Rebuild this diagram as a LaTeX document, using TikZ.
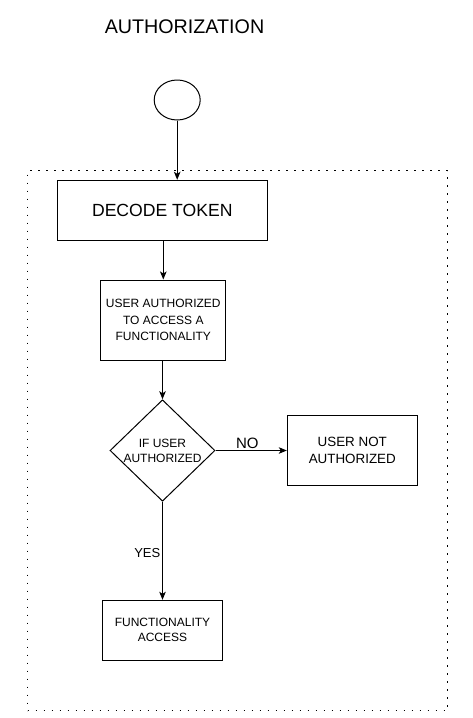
\documentclass[tikz,border=0pt]{standalone}
\usepackage{fontspec}
\setmainfont{Liberation Sans}
\usetikzlibrary{shapes.geometric,arrows.meta}
\begin{document}
\begin{tikzpicture}[x=1pt,y=-1pt,
 box/.style={draw,line width=1pt,rectangle,inner sep=0pt,align=center},
 arr/.style={-{Stealth[length=8pt,width=6.5pt,inset=2pt]},line width=1pt},
 lbl/.style={inner sep=0pt},
 frame/.style={draw,line width=1.8pt,dash pattern=on 1.8pt off 6.2pt,inner sep=0pt}]
\useasboundingbox (0,0) rectangle (472,718);
\node[frame,minimum width=420pt,minimum height=540pt] (grp) at (237.5,440.5) {};
\node[lbl,font=\fontsize{19.7}{24}\selectfont] (title) at (184.5,26.7) {AUTHORIZATION};
\node[draw,line width=1pt,ellipse,minimum width=46pt,minimum height=40pt,inner sep=0pt] (start) at (177.2,100) {};
\node[box,minimum width=210pt,minimum height=60pt,font=\fontsize{17.6}{21}\selectfont] (decode) at (162.3,210.3) {DECODE TOKEN};
\node[box,minimum width=125pt,minimum height=80pt,font=\fontsize{12}{16.7}\selectfont] (auth) at (163.3,320) {USER AUTHORIZED\\TO ACCESS A\\FUNCTIONALITY};
\node[draw,line width=1pt,diamond,minimum width=105pt,minimum height=100pt,inner sep=0pt,align=center,font=\fontsize{12}{15}\selectfont] (dec) at (162.5,450.5) {IF USER\\AUTHORIZED};
\node[box,minimum width=130pt,minimum height=70pt,font=\fontsize{13.4}{16.7}\selectfont] (notauth) at (352.3,450.3) {USER NOT\\AUTHORIZED};
\node[box,minimum width=120pt,minimum height=60pt,font=\fontsize{12}{15}\selectfont] (func) at (162.5,630.3) {FUNCTIONALITY\\ACCESS};
\draw[arr] (start.south) -- (start.south |- decode.north);
\draw[arr] (auth.north |- decode.south) -- (auth.north);
\draw[arr] (auth.south -| dec.north) -- (dec.north);
\draw[arr] (dec.east) -- (notauth.west |- dec.east);
\draw[arr] (dec.south) -- (func.north -| dec.south);
\node[lbl,font=\fontsize{15}{18}\selectfont] (no) at (247.3,443) {NO};
\node[lbl,font=\fontsize{13}{16}\selectfont] (yes) at (147.3,552.7) {YES};
\end{tikzpicture}
\end{document}
